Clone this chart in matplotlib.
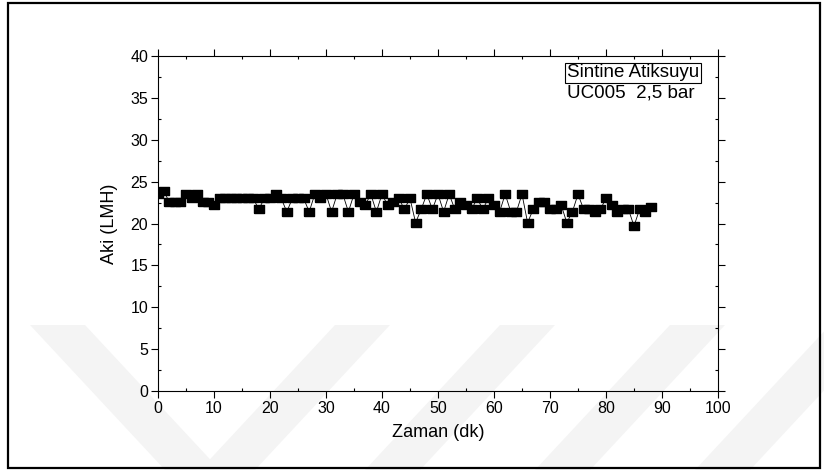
import matplotlib.pyplot as plt
from matplotlib.patches import Rectangle, Polygon
from matplotlib.ticker import MultipleLocator

plt.rcParams['font.family'] = ['Liberation Sans', 'DejaVu Sans']

# flux readings, one per minute
zaman = list(range(0, 89))
aki = [23.5, 23.9, 22.6, 22.6, 22.6, 23.5, 23.0, 23.5, 22.6, 22.6,
       22.2, 23.0, 23.0, 23.0, 23.0, 23.0, 23.0, 23.0, 21.7, 23.0,
       23.0, 23.5, 23.0, 21.4, 23.0, 23.0, 23.0, 21.4, 23.5, 23.0,
       23.5, 21.4, 23.5, 23.5, 21.4, 23.5, 22.6, 22.2, 23.5, 21.4,
       23.5, 22.2, 22.6, 23.0, 21.7, 23.0, 20.1, 21.7, 23.5, 21.7,
       23.5, 21.4, 23.5, 21.7, 22.6, 22.2, 21.7, 23.0, 21.7, 23.0,
       22.2, 21.4, 23.5, 21.4, 21.4, 23.5, 20.1, 21.7, 22.6, 22.6,
       21.7, 21.7, 22.2, 20.1, 21.4, 23.5, 21.7, 21.7, 21.4, 21.7,
       23.0, 22.2, 21.4, 21.7, 21.7, 19.7, 21.7, 21.4, 22.0]

W, H = 824, 470
fig = plt.figure(figsize=(W / 100, H / 100), dpi=100)

def fx(px):
    return px / W

def fy(py):
    return 1 - py / H

# faint watermark bands behind everything
gray = '#f4f4f4'
bands = [
    [(30, 325), (85, 325), (220, 470), (165, 470)],
    [(200, 470), (255, 470), (390, 325), (335, 325)],
    [(365, 470), (420, 470), (555, 325), (500, 325)],
    [(535, 470), (590, 470), (725, 325), (670, 325)],
    [(695, 470), (750, 470), (885, 325), (830, 325)],
]
for b in bands:
    fig.patches.append(Polygon([(fx(x), fy(y)) for x, y in b], closed=True,
                               transform=fig.transFigure, facecolor=gray,
                               edgecolor='none', zorder=-10))

# outer frame
fig.patches.append(Rectangle((fx(8), fy(468)), fx(820) - fx(8), fy(3) - fy(468),
                             transform=fig.transFigure, fill=False,
                             edgecolor='black', linewidth=1.6, zorder=5))

ax = fig.add_axes([fx(158), fy(391), fx(718) - fx(158), fy(56) - fy(391)])
ax.set_facecolor('none')
ax.set_zorder(1)

rect = [(-1.4, -1), (1.4, -1), (1.4, 1), (-1.4, 1), (-1.4, -1)]
ax.plot(zaman, aki, color='black', linewidth=0.6, marker=rect,
        markersize=7.6, markerfacecolor='black', markeredgecolor='black')

ax.set_xlim(0, 100)
ax.set_ylim(0, 40)
ax.xaxis.set_major_locator(MultipleLocator(10))
ax.xaxis.set_minor_locator(MultipleLocator(5))
ax.yaxis.set_major_locator(MultipleLocator(5))
ax.yaxis.set_minor_locator(MultipleLocator(2.5))
ax.tick_params(which='major', direction='out', length=5, width=0.8,
               labelsize=11.5, pad=2)
ax.tick_params(which='minor', direction='in', length=2.5, width=0.8)
ax.tick_params(which='both', top=True, right=True)
for s in ax.spines.values():
    s.set_linewidth(0.8)

ax.set_xlabel('Zaman (dk)', fontsize=13, labelpad=6)
ax.set_ylabel('Aki (LMH)', fontsize=13, labelpad=9)

ax.text(73.0, 39.0, 'Sintine Atiksuyu', fontsize=13.5, ha='left', va='top',
        bbox=dict(boxstyle='square,pad=0.1', facecolor='white',
                  edgecolor='black', linewidth=0.8))
ax.text(73.0, 35.6, 'UC005  2,5 bar', fontsize=13.5, ha='left', va='center')

fig.savefig('out.png', dpi=100)
